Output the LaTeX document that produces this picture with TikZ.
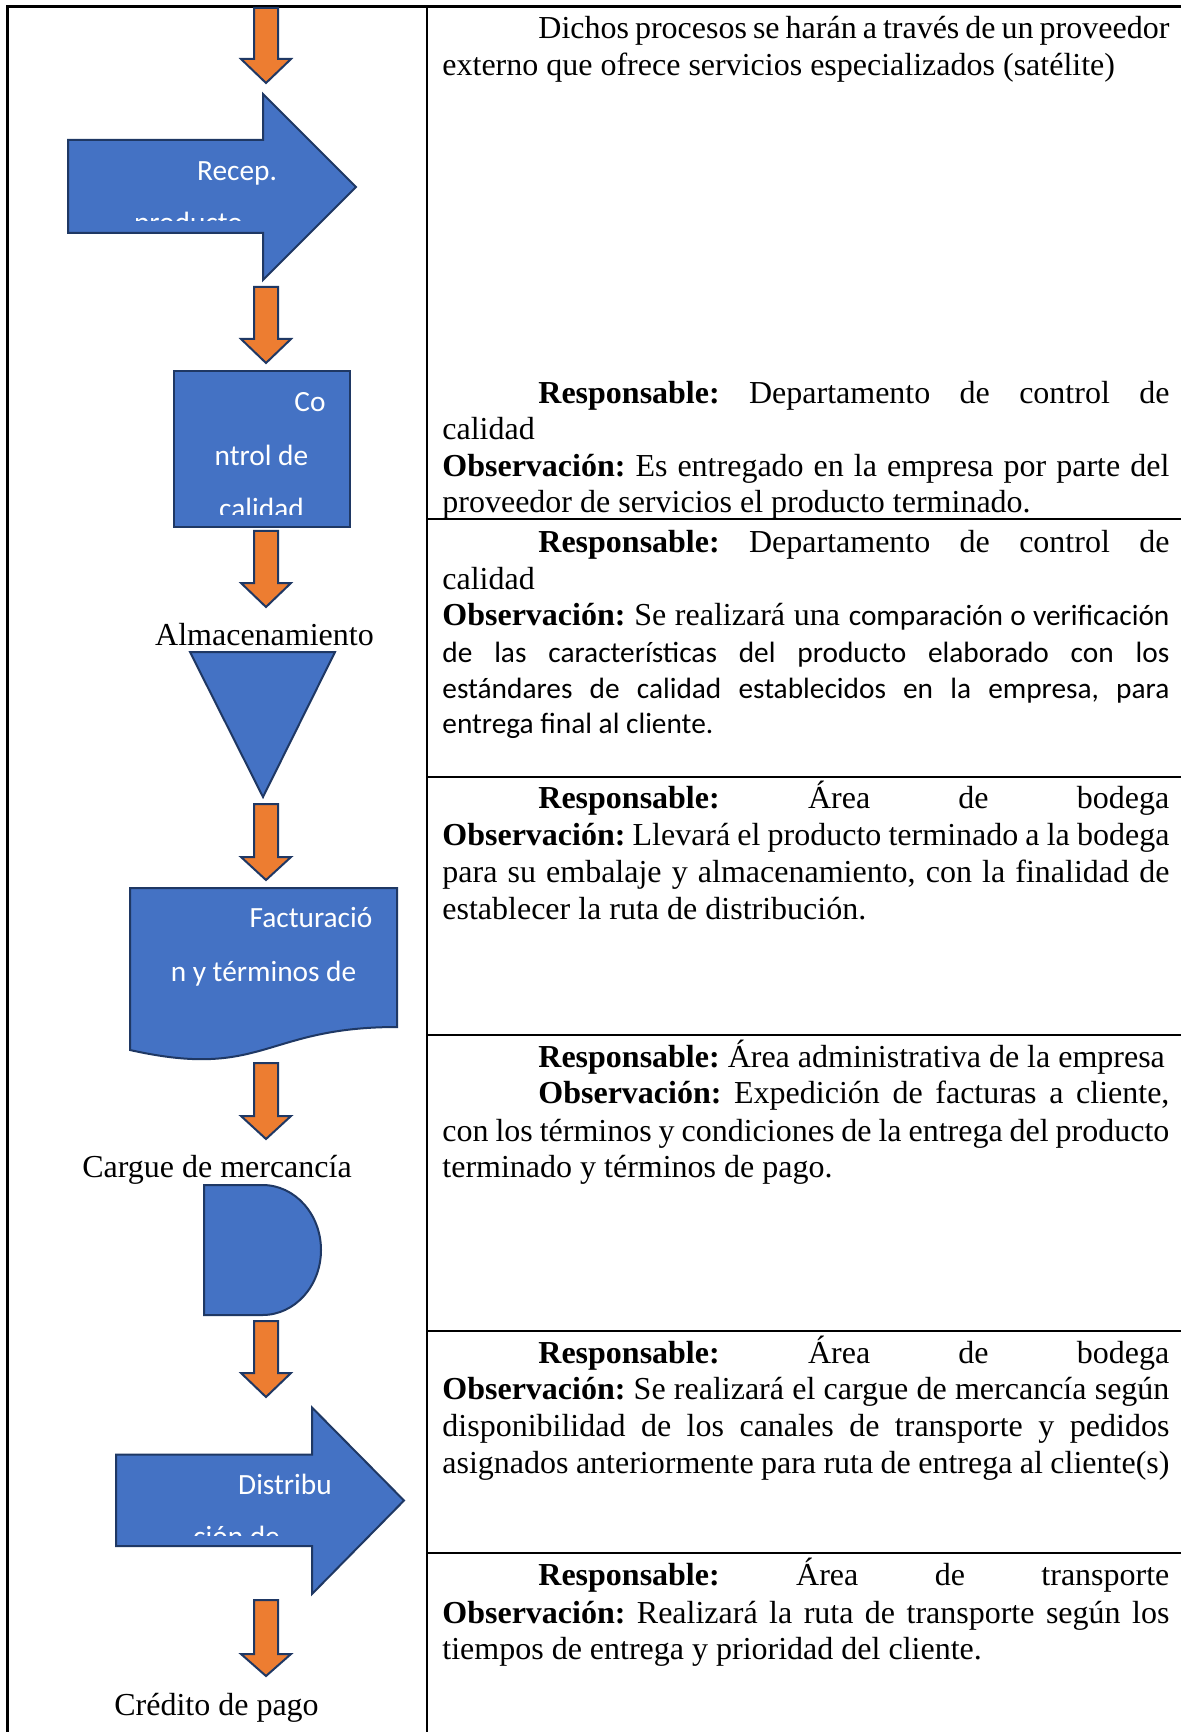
\documentclass[tikz,border=0pt]{standalone}
\usepackage{fontspec}
\setmainfont{Liberation Serif}
\newfontfamily\calibri{Carlito}
\newcommand\cb{\calibri\fontsize{14.67}{17}\selectfont}
\definecolor{shapeblue}{HTML}{4472C4}
\definecolor{navyline}{HTML}{1F3864}
\definecolor{orangefill}{HTML}{ED7D31}
\tikzset{
  blockshape/.style={fill=shapeblue, draw=navyline, line width=1pt, line join=miter},
  orarrow/.style={fill=orangefill, draw=navyline, line width=1pt, line join=miter},
  shapetext/.style={font=\cb, text=white, inner sep=0pt, anchor=base},
  labeltext/.style={font=\fontsize{16}{19}\selectfont, inner sep=0pt, anchor=base},
  rtext/.style={font=\fontsize{16}{19}\selectfont\frenchspacing, inner sep=0pt, anchor=base west, yshift=-1.1pt},
  rowline/.style={line width=1.2pt, draw=black},
}
\newcommand\downarr[3]{%
  \draw[orarrow] (254,#1) -- (278,#1) -- (278,#2) -- (291,#2) -- (266,#3) -- (241,#2) -- (254,#2) -- cycle;}
\newcommand\jl[5]{\node[rtext] (#1) at (#2,#3) {\makebox[#4][s]{#5}};}
\newcommand\nl[4]{\node[rtext] (#1) at (#2,#3) {#4};}
\begin{document}
\frenchspacing
\begin{tikzpicture}[x=0.5pt,y=-0.5pt]
\useasboundingbox (0,0) rectangle (1181,1732);
\fill[white] (0,0) rectangle (1181,1732);

% table
\draw[rowline] (7.5,1732) -- (7.5,6.5) -- (1181,6.5);
\draw[rowline] (427,6.5) -- (427,1732);
\foreach \yy in {519,777,1035,1331,1553} \draw[rowline] (427,\yy) -- (1181,\yy);

% orange down arrows
\downarr{8}{59}{83}
\downarr{287}{339}{363}
\downarr{531}{583}{607}
\downarr{804}{857}{880}
\downarr{1063}{1116}{1139}
\downarr{1321}{1373}{1397}
\downarr{1600}{1654}{1676}

% Recep. producto block arrow
\draw[blockshape] (68,140) -- (263,140) -- (263,94) -- (356,187) -- (263,280) -- (263,233) -- (68,233) -- cycle;
\node[shapetext] (recep) at (237,181) {Recep.};
\begin{scope}
  \clip (68,140) rectangle (356,221);
  \node[shapetext] (recep2) at (188.5,233) {producto};
\end{scope}

% Control de calidad box
\draw[blockshape] (174,371) rectangle (350,527);
\node[shapetext] (ctl1) at (310,412) {Co};
\node[shapetext] (ctl2) at (261.5,466) {ntrol de};
\begin{scope}
  \clip (174,371) rectangle (350,515);
  \node[shapetext] (ctl3) at (261.5,519) {calidad};
\end{scope}

% Almacenamiento
\node[labeltext] (alm) at (264.5,645) {Almacenamiento};
\draw[blockshape] (190,652) -- (335,652) -- (263,797) -- cycle;

% Facturacion document shape
\draw[blockshape] (130,888) -- (397,888) -- (397,1027) .. controls (263.5,1027) and (263.5,1080) .. (130,1050) -- cycle;
\node[shapetext] (fac1) at (311,927) {Facturació};
\node[shapetext] (fac2) at (263.5,981) {n y términos de};

% Cargue de mercancia
\node[labeltext] (car) at (217,1177) {Cargue de mercancía};
\draw[blockshape] (204,1185) -- (262.5,1185) .. controls (294.8,1185) and (321,1214.1) .. (321,1250)
  .. controls (321,1285.9) and (294.8,1315) .. (262.5,1315) -- (204,1315) -- cycle;

% Distribucion block arrow
\draw[blockshape] (116,1454.5) -- (312,1454.5) -- (312,1407.5) -- (404,1500.5) -- (312,1594) -- (312,1546) -- (116,1546) -- cycle;
\node[shapetext] (dis1) at (285,1494) {Distribu};
\begin{scope}
  \clip (116,1454.5) rectangle (404,1535);
  \node[shapetext] (dis2) at (236.5,1546) {ción de};
\end{scope}

% Credito de pago
\node[labeltext] (cre) at (216.5,1715) {Crédito de pago};

% right column text
\jl{t1a}{538}{36.5}{315.5pt}{Dichos procesos se harán a través de un proveedor}
\nl{t1b}{442}{73}{externo que ofrece servicios especializados (satélite)}
\jl{t1c}{538}{401}{315.5pt}{\textbf{Responsable:} Departamento de control de}
\nl{t1d}{442}{437.5}{calidad}
\jl{t1e}{442}{474}{363.5pt}{\textbf{Observación:} Es entregado en la empresa por parte del}
\nl{t1f}{442}{510.5}{proveedor de servicios el producto terminado.}

\jl{t2a}{538}{550}{315.5pt}{\textbf{Responsable:} Departamento de control de}
\nl{t2b}{442}{587}{calidad}
\jl{t2c}{442}{623}{363.5pt}{\textbf{Observación:} Se realizará una {\cb comparación o verificación}}
\jl{t2d}{442}{660}{363.5pt}{\cb de las características del producto elaborado con los}
\jl{t2e}{442}{696}{363.5pt}{\cb estándares de calidad establecidos en la empresa, para}
\nl{t2f}{442}{731.5}{\cb entrega final al cliente.}

\jl{t3a}{538}{806.5}{315.5pt}{\textbf{Responsable:} Área de bodega}
\jl{t3b}{442}{843}{363.5pt}{\textbf{Observación:} Llevará el producto terminado a la bodega}
\jl{t3c}{442}{880.5}{363.5pt}{para su embalaje y almacenamiento, con la finalidad de}
\nl{t3d}{442}{917}{establecer la ruta de distribución.}

\nl{t4a}{538}{1065}{\textbf{Responsable:} Área administrativa de la empresa}
\jl{t4b}{538}{1101.5}{315.5pt}{\textbf{Observación:} Expedición de facturas a cliente,}
\jl{t4c}{442}{1139}{363.5pt}{con los términos y condiciones de la entrega del producto}
\nl{t4d}{442}{1175.7}{terminado y términos de pago.}

\jl{t5a}{538}{1361}{315.5pt}{\textbf{Responsable:} Área de bodega}
\jl{t5b}{442}{1397.7}{363.5pt}{\textbf{Observación:} Se realizará el cargue de mercancía según}
\jl{t5c}{442}{1434}{363.5pt}{disponibilidad de los canales de transporte y pedidos}
\jl{t5d}{442}{1471.7}{363.5pt}{asignados anteriormente para ruta de entrega al cliente(s)}

\jl{t6a}{538}{1583}{315.5pt}{\textbf{Responsable:} Área de transporte}
\jl{t6b}{442}{1621}{363.5pt}{\textbf{Observación:} Realizará la ruta de transporte según los}
\nl{t6c}{442}{1657}{tiempos de entrega y prioridad del cliente.}
\end{tikzpicture}
\end{document}
